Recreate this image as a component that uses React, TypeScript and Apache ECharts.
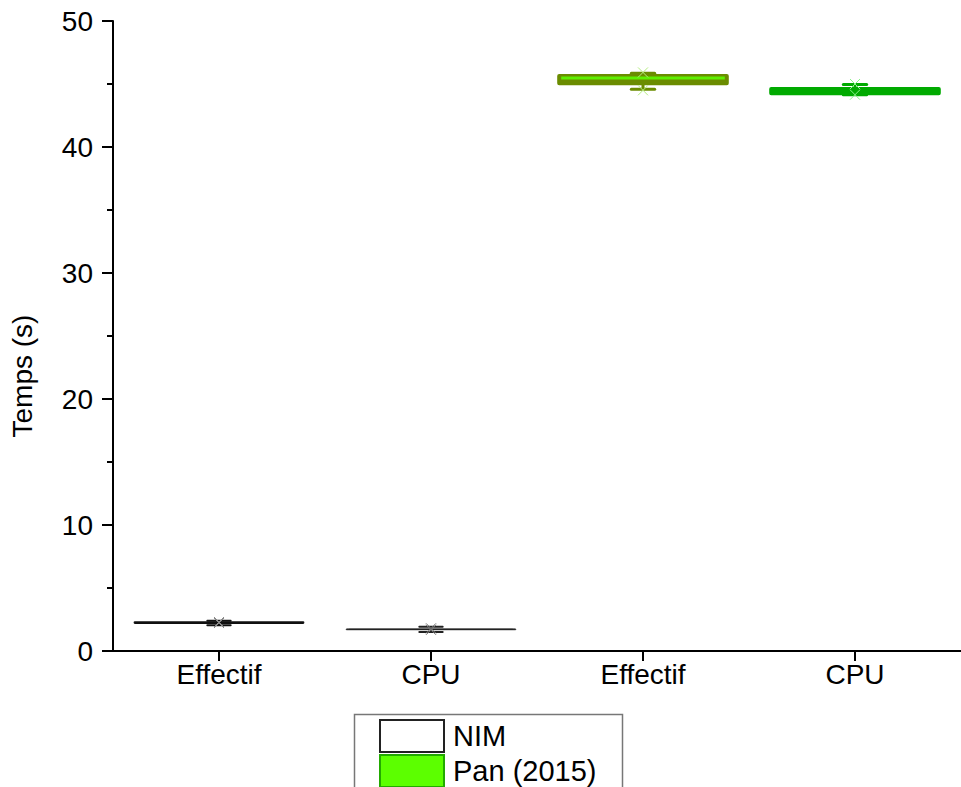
import React, { useEffect, useRef } from "react";
import * as echarts from "echarts";

// Categories along the x axis
const categories = ["Effectif", "CPU", "Effectif", "CPU"];
const seriesNames = ["NIM", "Pan (2015)"];

// Box statistics: [category index, lower whisker, Q1, median, Q3, upper whisker, lower X mark, upper X mark]
const nimBoxes = [
  [0, 2.05, 2.2, 2.26, 2.31, 2.4, 2.22, 2.3],
  [1, 1.5, 1.69, 1.72, 1.75, 1.92, 1.68, 1.8],
];
const panBoxes = [
  [2, 44.58, 44.98, 45.48, 45.72, 45.85, 44.5, 45.92],
  [3, 44.15, 44.18, 44.43, 44.68, 44.96, 44.15, 45.0],
];

const yTicks = { min: 0, max: 50, interval: 10 };

// Styles (kept apart from the data)
const boxStyles = [
  { fill: "#111", border: "#111", bw: 1.2, median: "#111", mw: 1, whisker: "#111", ww: 2, mark: "#888" },
  { fill: "#222", border: "#222", bw: 1, median: "#222", mw: 1, whisker: "#222", ww: 2, mark: "#777" },
  { fill: "#6b8c00", border: "#6b8c00", bw: 2, median: "#5ef000", mw: 3, whisker: "#6b8c00", ww: 3, mark: "#b4ee80" },
  { fill: "#00aa00", border: "#00aa00", bw: 2, median: "#00aa00", mw: 2, whisker: "#00aa00", ww: 3, mark: "#8af28a" },
];
const legendStyles = [
  { color: "#ffffff", borderColor: "#222", borderWidth: 2 },
  { color: "#5cff00", borderColor: "#22aa00", borderWidth: 2 },
];

const FONT = "Liberation Sans, Arial, sans-serif";

function renderBox(params: any, api: any) {
  const ci = api.value(0);
  const lo = api.coord([ci, api.value(1)]);
  const q1 = api.coord([ci, api.value(2)]);
  const med = api.coord([ci, api.value(3)]);
  const q3 = api.coord([ci, api.value(4)]);
  const hi = api.coord([ci, api.value(5)]);
  const m1 = api.coord([ci, api.value(6)]);
  const m2 = api.coord([ci, api.value(7)]);
  const band = api.size([1, 0])[0];
  const boxW = band * 0.8;
  const capW = band * 0.11;
  const cx = lo[0];
  const st = boxStyles[ci];
  const xm = 5;
  const children: any[] = [
    {
      type: "line",
      shape: { x1: cx, y1: q3[1], x2: cx, y2: hi[1] },
      style: { stroke: st.whisker, lineWidth: st.ww },
    },
    {
      type: "line",
      shape: { x1: cx, y1: q1[1], x2: cx, y2: lo[1] },
      style: { stroke: st.whisker, lineWidth: st.ww },
    },
    {
      type: "line",
      shape: { x1: cx - capW / 2, y1: hi[1], x2: cx + capW / 2, y2: hi[1] },
      style: { stroke: st.whisker, lineWidth: st.ww, lineCap: "round" },
    },
    {
      type: "line",
      shape: { x1: cx - capW / 2, y1: lo[1], x2: cx + capW / 2, y2: lo[1] },
      style: { stroke: st.whisker, lineWidth: st.ww, lineCap: "round" },
    },
    {
      type: "rect",
      shape: { x: cx - boxW / 2, y: q3[1], width: boxW, height: Math.max(q1[1] - q3[1], 0.5), r: 1 },
      style: { fill: st.fill, stroke: st.border, lineWidth: st.bw },
    },
    {
      type: "line",
      shape: { x1: cx - boxW / 2 + 3, y1: med[1], x2: cx + boxW / 2 - 3, y2: med[1] },
      style: { stroke: st.median, lineWidth: st.mw },
    },
  ];
  [m1, m2].forEach((p) => {
    children.push(
      {
        type: "line",
        shape: { x1: p[0] - xm, y1: p[1] - xm, x2: p[0] + xm, y2: p[1] + xm },
        style: { stroke: st.mark, lineWidth: 1 },
      },
      {
        type: "line",
        shape: { x1: p[0] - xm, y1: p[1] + xm, x2: p[0] + xm, y2: p[1] - xm },
        style: { stroke: st.mark, lineWidth: 1 },
      }
    );
  });
  return { type: "group", children };
}

export default function App() {
  const ref = useRef<HTMLDivElement>(null);
  useEffect(() => {
    if (!ref.current) return;
    const chart = echarts.init(ref.current, null, { renderer: "svg" });
    const legendTops = [719, 754];
    chart.setOption({
      animation: false,
      backgroundColor: "#ffffff",
      grid: { left: 113, top: 21, width: 856, height: 630, containLabel: false },
      xAxis: {
        type: "category",
        data: categories,
        boundaryGap: true,
        axisLine: { show: true, lineStyle: { color: "#000", width: 2 } },
        axisTick: { show: true, alignWithLabel: true, length: 10, lineStyle: { color: "#000", width: 2 } },
        axisLabel: { color: "#000", fontSize: 28, fontFamily: FONT, margin: 9, interval: 0 },
        splitLine: { show: false },
      },
      yAxis: {
        type: "value",
        min: yTicks.min,
        max: yTicks.max,
        interval: yTicks.interval,
        name: "Temps (s)",
        nameLocation: "middle",
        nameGap: 77,
        nameRotate: 90,
        nameTextStyle: { color: "#000", fontSize: 28, fontFamily: FONT, padding: [0, 80, 0, 0] },
        axisLine: { show: true, lineStyle: { color: "#000", width: 2 } },
        axisTick: { show: true, inside: false, length: 11, lineStyle: { color: "#000", width: 2 } },
        minorTick: { show: true, splitNumber: 2, length: 6, lineStyle: { color: "#000", width: 2 } },
        axisLabel: { color: "#000", fontSize: 28, fontFamily: FONT, margin: 20 },
        splitLine: { show: false },
        minorSplitLine: { show: false },
      },
      legend: seriesNames.map((name, i) => ({
        orient: "vertical",
        left: 379,
        top: legendTops[i],
        padding: 0,
        itemWidth: 64,
        itemHeight: 32,
        icon: "rect",
        selectedMode: false,
        textStyle: { color: "#000", fontSize: 29, fontFamily: FONT, padding: [0, 0, 0, 4] },
        data: [{ name, itemStyle: legendStyles[i] }],
      })),
      graphic: [
        {
          type: "rect",
          left: 352,
          top: 712,
          shape: { width: 268, height: 100 },
          style: { fill: "none", stroke: "#777", lineWidth: 1.5 },
          z: 0,
        },
      ],
      series: [
        {
          name: seriesNames[0],
          type: "custom",
          renderItem: renderBox,
          itemStyle: { color: legendStyles[0].color, borderColor: legendStyles[0].borderColor },
          encode: { x: 0, y: [1, 2, 3, 4, 5, 6, 7] },
          data: nimBoxes,
        },
        {
          name: seriesNames[1],
          type: "custom",
          renderItem: renderBox,
          itemStyle: { color: legendStyles[1].color, borderColor: legendStyles[1].borderColor },
          encode: { x: 0, y: [1, 2, 3, 4, 5, 6, 7] },
          data: panBoxes,
        },
      ],
    });
    return () => chart.dispose();
  }, []);
  return (
    <div
      ref={ref}
      style={{ position: "absolute", left: 0, top: 0, width: 961, height: 787, background: "#fff" }}
    />
  );
}
